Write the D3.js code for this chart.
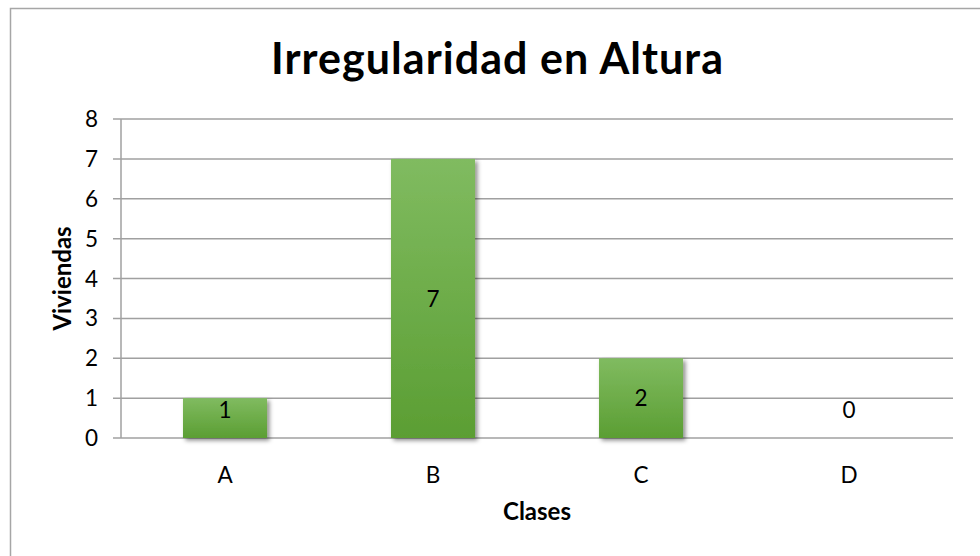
<!DOCTYPE html>
<html><head><meta charset="utf-8">
<script src="https://cdn.jsdelivr.net/npm/d3@7"></script>
<style>html,body{margin:0;padding:0;background:#fff;}svg{display:block;font-family:Lato,"Open Sans",sans-serif;}</style>
</head><body>
<script>
const categories = ["A","B","C","D"];
const values = [1,7,2,0];
const yTicks = [0,1,2,3,4,5,6,7,8];
const title = "Irregularidad en Altura";
const xTitle = "Clases";
const yTitle = "Viviendas";

const W = 980, H = 556;
const svg = d3.select("body").append("svg").attr("width", W).attr("height", H);
const defs = svg.append("defs");
const grad = defs.append("linearGradient").attr("id","g").attr("x1",0).attr("x2",0).attr("y1",0).attr("y2",1);
grad.append("stop").attr("offset","0%").attr("stop-color","#80bb60");
grad.append("stop").attr("offset","100%").attr("stop-color","#5b9e33");
const f = defs.append("filter").attr("id","sh").attr("x","-20%").attr("y","-20%").attr("width","150%").attr("height","150%");
f.append("feDropShadow").attr("dx",2.5).attr("dy",2.5).attr("stdDeviation",2.2).attr("flood-color","#000").attr("flood-opacity",0.45);

svg.append("rect").attr("x",10.5).attr("y",8.5).attr("width",W).attr("height",H)
  .attr("fill","#fff").attr("stroke","#a6a6a6").attr("stroke-width",1.5);

const L = 121, R = 953, T = 119, B = 438;
const x = d3.scaleBand().domain(categories).range([L,R]).paddingInner(0.596).paddingOuter(0.298);
const y = d3.scaleLinear().domain([0,8]).range([B,T]);

const g = svg.append("g");
g.selectAll("line.grid").data(yTicks).join("line")
  .attr("x1",L-8).attr("x2",R).attr("y1",d=>y(d)).attr("y2",d=>y(d))
  .attr("stroke","#a0a0a0").attr("stroke-width",1.5);
g.append("line").attr("x1",L).attr("x2",L).attr("y1",T).attr("y2",B)
  .attr("stroke","#a0a0a0").attr("stroke-width",1.5);

g.selectAll("text.yt").data(yTicks).join("text")
  .attr("x",98).attr("y",d=>y(d)).attr("dy","0.36em").attr("text-anchor","end")
  .attr("font-size",22.5).attr("fill","#000").text(d=>d);

g.selectAll("rect.bar").data(values.map((v,i)=>({c:categories[i],v}))).join("rect")
  .filter(d=>d.v>0)
  .attr("x",d=>x(d.c)).attr("width",x.bandwidth())
  .attr("y",d=>y(d.v)).attr("height",d=>y(0)-y(d.v))
  .attr("fill","url(#g)").attr("filter","url(#sh)");

g.selectAll("text.vl").data(values.map((v,i)=>({c:categories[i],v}))).join("text")
  .attr("x",d=>x(d.c)+x.bandwidth()/2)
  .attr("y",d=>Math.min((y(d.v)+y(0))/2, y(0)-28))
  .attr("dy","0.36em").attr("text-anchor","middle").attr("font-size",22.5).attr("fill","#000")
  .text(d=>d.v);

g.selectAll("text.xl").data(categories).join("text")
  .attr("x",d=>x(d)+x.bandwidth()/2).attr("y",475).attr("dy","0.36em")
  .attr("text-anchor","middle").attr("font-size",22.5).attr("fill","#000").text(d=>d);

svg.append("text").attr("x",(L+R)/2).attr("y",520).attr("text-anchor","middle")
  .attr("font-size",24).attr("font-weight","bold").text(xTitle);
svg.append("text").attr("transform",`translate(71,${(T+B)/2}) rotate(-90)`).attr("text-anchor","middle")
  .attr("font-size",24).attr("font-weight","bold").text(yTitle);
svg.append("text").attr("x",497).attr("y",74).attr("text-anchor","middle")
  .attr("font-size",43).attr("font-weight","bold")
  .attr("textLength",452).attr("lengthAdjust","spacing").text(title);
</script>
</body></html>
